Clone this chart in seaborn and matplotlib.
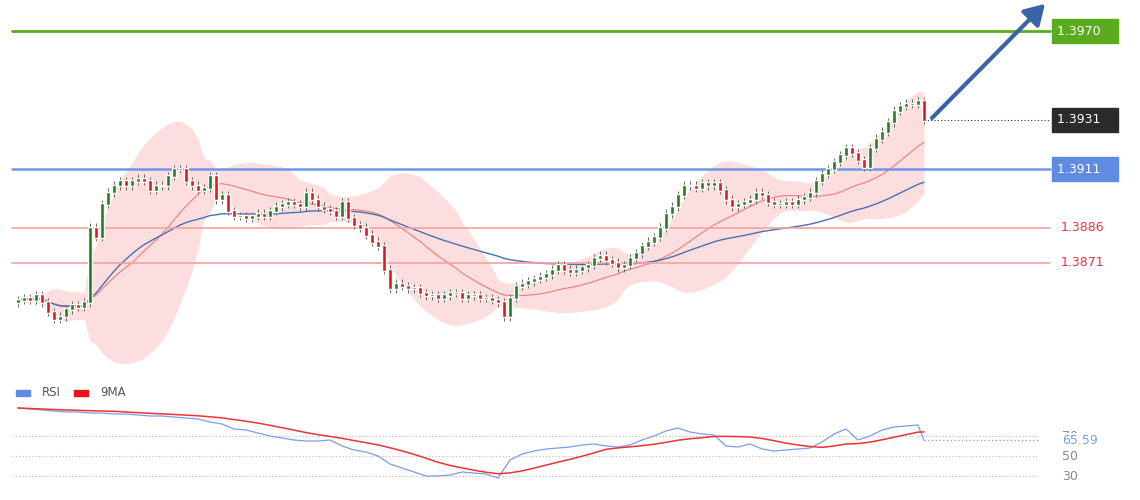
import numpy as np
import pandas as pd
import matplotlib
matplotlib.use("Agg")
import matplotlib.pyplot as plt
import seaborn as sns

# closes in pips above 1.3800
close_pips = [55,56,55,57,54,50,47,48,51,53,52,54,86,82,96,101,104,106,104,106,
              107,106,102,104,104,108,111,111,106,104,102,103,108,98,100,93,91,91,90,91,
              92,91,93,95,96,97,96,95,101,98,95,94,93,91,97,90,87,86,83,80,
              78,68,60,62,61,60,60,58,57,57,56,57,58,58,56,57,57,56,56,55,
              54,48,56,61,62,63,64,65,66,68,70,68,67,68,69,70,73,74,72,71,
              69,70,73,75,78,80,82,86,92,95,100,104,104,103,105,104,105,102,98,95,
              96,97,98,101,100,97,96,96,97,96,98,99,101,106,109,111,114,117,120,118,
              115,112,120,124,127,131,136,138,139,139,140,132]
rsi_vals = [98,97,96,95,94,94,93,93,92,92,91,90,90,89,88,87,84,82,77,76,
            73,70,68,66,65,65,66,60,56,54,50,42,38,34,30,30,31,34,33,32,
            28,46,52,55,57,58,59,61,62,60,59,61,66,70,75,78,74,72,71,60,
            59,62,57,55,56,57,58,64,72,77,66,70,76,79,80,81,65.59]
level_prices = [1.3970, 1.3911, 1.3886, 1.3871]
level_labels = ["1.3970", "1.3911", "1.3886", "1.3871"]
last_label = "1.3931"

closes = 1.38 + np.array(close_pips) / 10000.0
n = len(closes)
opens = np.r_[closes[0] - 0.0001, closes[:-1]]
idx = np.arange(n)
hi = np.maximum(opens, closes) + 0.00018
lo = np.minimum(opens, closes) - 0.00018

sns.set_theme(style="white")
plt.rcParams['font.family'] = ['DejaVu Sans']
fig = plt.figure(figsize=(11.4, 5), dpi=100)
ax = fig.add_axes([0, 130/500, 1, 370/500])
ax2 = fig.add_axes([0, 0, 1, 120/500])
for a in (ax, ax2):
    a.set_xlim(-3, 187)
    a.axis("off")
ax.set_ylim(1.38251, 1.39833)
ax2.set_ylim(6, 126)

s = pd.Series(closes)
mid = s.rolling(20, min_periods=1).mean()
sd = s.rolling(20, min_periods=1).std().fillna(0)
ma50 = s.ewm(span=60).mean()
ax.fill_between(idx, mid - 1.8*sd, mid + 1.8*sd, color="#fcdede", lw=0, zorder=1)
df = pd.DataFrame({"i": idx, "mid": mid, "ma": ma50})
sns.lineplot(data=df, x="i", y="mid", ax=ax, color="#f07a7a", lw=0.8, zorder=2)
sns.lineplot(data=df, x="i", y="ma", ax=ax, color="#4a6fb5", lw=1.0, zorder=2)

# levels
ax.plot([-1, 172], [1.3970]*2, color="#5aab1e", lw=2, zorder=3)
ax.plot([-1, 172], [1.3911]*2, color="#6f96e8", lw=1.8, zorder=3)
for p in level_prices[2:]:
    ax.plot([-1, 172], [p]*2, color="#f6a0a0", lw=1.2, zorder=3)

# candles
col = np.where(closes >= opens, "#2a7a1e", "#e8141c")
ax.vlines(idx, lo, hi, color="#666666", lw=0.7, zorder=4)
ax.bar(idx, np.abs(closes-opens)+0.00008, bottom=np.minimum(opens, closes)-0.00004,
       width=0.8, color=col, zorder=5)

ax.plot([n-1, 172], [closes[-1]]*2, color="#333333", lw=0.8, ls=(0, (1, 2)), zorder=3)
ax.annotate("", xy=(171.5, 1.39825), xytext=(152, 1.3932),
            arrowprops=dict(arrowstyle="-|>,head_width=0.6,head_length=1.0",
                            color="#3a64a8", lw=3), zorder=6)

def box(y, txt, fc):
    ax.text(173.2, y, txt + "   ", color="white", fontsize=9, va="center", ha="left",
            bbox=dict(boxstyle="square,pad=0.45", fc=fc, ec=fc), zorder=7)
box(1.3970, level_labels[0], "#5aab1e")
box(1.3911, level_labels[1], "#5f8be0")
box(closes[-1], last_label, "#2b2b2b")
for p, t in zip(level_prices[2:], level_labels[2:]):
    ax.text(173.8, p, t, color="#e8343c", fontsize=9, va="center", ha="left")

# RSI panel
ridx = list(range(0, 152, 2)) + [151]
rs = pd.Series(rsi_vals)
rdf = pd.DataFrame({"i": ridx, "rsi": rsi_vals, "ma": rs.rolling(9, min_periods=1).mean()})
for lv in (70, 50, 30):
    ax2.plot([-1, 170], [lv]*2, color="#bbbbbb", lw=0.8, ls=(0, (1, 2)))
    ax2.text(174, lv, str(lv), color="#888888", fontsize=9, va="center")
sns.lineplot(data=rdf, x="i", y="rsi", ax=ax2, color="#7b9ee8", lw=0.9)
sns.lineplot(data=rdf, x="i", y="ma", ax=ax2, color="#ee3333", lw=1.1)
ax2.plot([151, 170], [65.59]*2, color="#7b9ee8", lw=0.9, ls=(0, (1, 2)))
ax2.text(174, 65.59, "65.59", color="#7b9ee8", fontsize=9, va="center",
         bbox=dict(fc="white", ec="none", pad=0.5))
fig.patches.append(plt.Rectangle((16/1140, 1-393/500-0.006), 14/1140, 0.012,
                                 transform=fig.transFigure, color="#5f8be0"))
fig.text(42/1140, 1-392/500, "RSI", fontsize=8.5, color="#555555", va="center")
fig.patches.append(plt.Rectangle((74/1140, 1-393/500-0.006), 14/1140, 0.012,
                                 transform=fig.transFigure, color="#e8141c"))
fig.text(100/1140, 1-392/500, "9MA", fontsize=8.5, color="#555555", va="center")
fig.savefig("out.png", dpi=100)
